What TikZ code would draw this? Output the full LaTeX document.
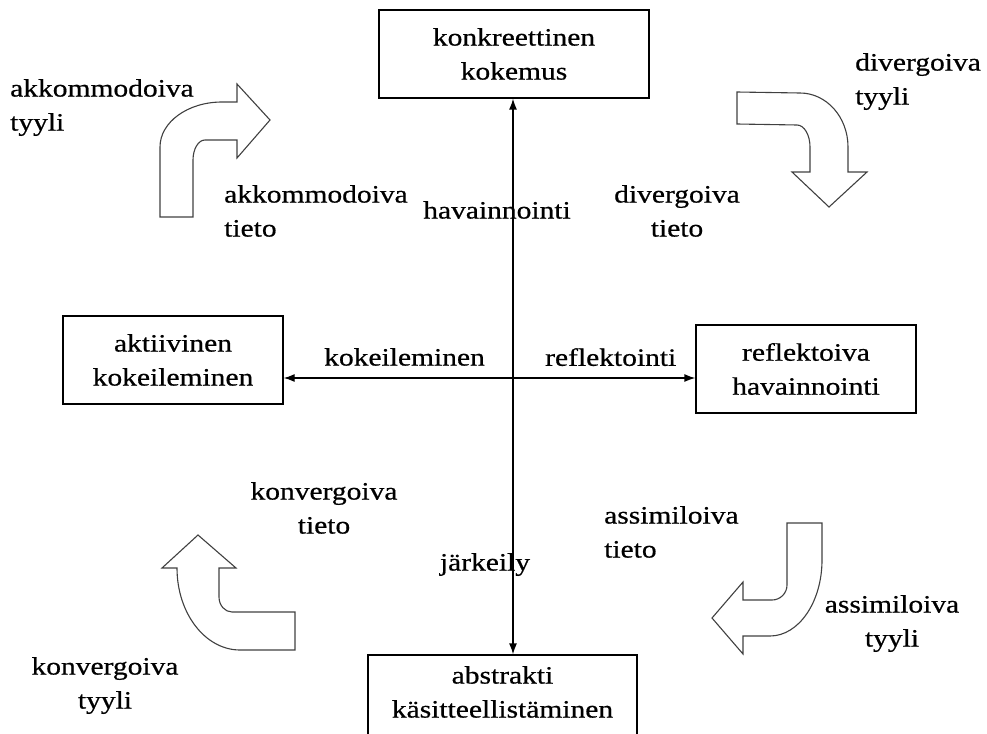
\documentclass[tikz,border=0pt]{standalone}
\usepackage{fontspec}
\setmainfont{Liberation Serif}[FakeStretch=1.18,FakeBold=0.6]
\usetikzlibrary{arrows.meta}
\begin{document}
\begin{tikzpicture}[x=1pt,y=-1pt,
  every node/.style={font=\fontsize{25}{34}\selectfont},
  box/.style={draw,line width=1.3pt,minimum width=#1,minimum height=88pt,align=center,inner sep=0pt},
  labl/.style={inner sep=0pt,anchor=north west,align=left},
  labc/.style={inner sep=0pt,anchor=north,align=center},
  axis/.style={line width=1.3pt,{Latex[length=11pt,width=8pt]}-{Latex[length=11pt,width=8pt]}},
  bent/.style={draw=black!75,line width=1.1pt,line join=miter}]
\useasboundingbox (0,0) rectangle (987,733);

% the four poles
\node[box=270pt] (kk) at (514,54) {konkreettinen\\kokemus};
\node[box=220pt] (ak) at (173,360) {aktiivinen\\kokeileminen};
\node[box=220pt] (rh) at (806,369) {reflektoiva\\havainnointi};
\node[box=269pt,minimum height=100pt] (ab) at (502.5,705) {};
\node[labc] (abt) at (502.5,666) {abstrakti\\käsitteellistäminen};

% the two axes
\coordinate (vx) at (513,0);
\coordinate (hy) at (0,378);
\draw[axis] (kk.south -| vx) -- (ab.north -| vx);
\draw[axis] (ak.east |- hy) -- (rh.west |- hy);

% axis labels
\node[labc] (hav) at (497,201) {havainnointi};
\node[inner sep=0pt,anchor=north east] (kok) at (485,348) {kokeileminen};
\node[inner sep=0pt,anchor=north west] (ref) at (545,348) {reflektointi};
\node[labc] (jar) at (485,553) {järkeily};

% styles and kinds of knowledge
\node[labl] (akty) at (10,79) {akkommodoiva\\tyyli};
\node[labl] (dvty) at (855,53) {divergoiva\\tyyli};
\node[labl] (akti) at (224,185) {akkommodoiva\\tieto};
\node[labc] (dvti) at (677,185) {divergoiva\\tieto};
\node[labc] (kvti) at (324,482) {konvergoiva\\tieto};
\node[labl] (asti) at (604,506) {assimiloiva\\tieto};
\node[labc] (asty) at (892,595) {assimiloiva\\tyyli};
\node[labc] (kvty) at (105,657) {konvergoiva\\tyyli};

% bent block arrows
\draw[bent] (160,217) -- (160,147)
  arc[start angle=180,end angle=270,x radius=62,y radius=45]
  -- (237,102) -- (237,84) -- (270,120) -- (237,158) -- (237,140) -- (205,140)
  arc[start angle=270,end angle=180,x radius=12,y radius=20]
  -- (193,217) -- cycle;
\draw[bent] (737,92) -- (800,93)
  arc[start angle=270,end angle=360,x radius=48,y radius=54]
  -- (848,172) -- (867,172) -- (829,207) -- (792,172) -- (810,172) -- (810,147)
  arc[start angle=0,end angle=-90,x radius=13,y radius=22]
  -- (737,124) -- cycle;
\draw[bent] (198,535) -- (236,568) -- (219,568) -- (219,597)
  arc[start angle=180,end angle=90,x radius=13,y radius=15]
  -- (295,612) -- (295,650) -- (240,650)
  arc[start angle=90,end angle=180,x radius=63,y radius=82]
  -- (162,568) -- cycle;
\draw[bent] (787,523) -- (822,523) -- (822,560)
  arc[start angle=0,end angle=90,x radius=52,y radius=76]
  -- (743,636) -- (743,654) -- (712,618) -- (743,582) -- (743,600) -- (772,600)
  arc[start angle=90,end angle=0,x radius=15,y radius=15]
  -- cycle;
\end{tikzpicture}
\end{document}
